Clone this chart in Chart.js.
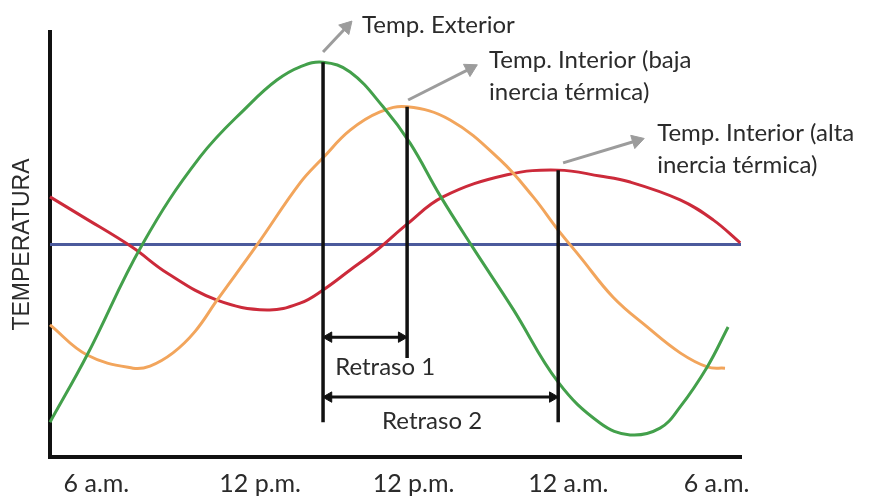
<!DOCTYPE html>
<html>
<head>
<meta charset="utf-8">
<script src="https://cdn.jsdelivr.net/npm/chart.js@4.4.1/dist/chart.umd.min.js"></script>
<style>
  html, body { margin: 0; padding: 0; background: #fff; }
  #wrap { width: 872px; height: 497px; }
</style>
</head>
<body>
<div id="wrap"><canvas id="chart" width="872" height="497"></canvas></div>
<script>
// x axis in hours, y axis is a relative temperature (0..100)
const xTickAt = [6, 12.35, 18.3, 24.3, 30.05];
const xTickLabels = ["6 a.m.", "12 p.m.", "12 p.m.", "12 a.m.", "6 a.m."];

// Temp. Exterior (green)
const extHours = [4.2, 5.64, 7.77, 10.02, 11.96, 13.0, 13.9, 14.79, 15.84, 17.12, 18.16, 19.33, 20.61, 22.16, 23.91, 25.53, 26.7, 27.86, 28.64, 29.69, 30.5];
const extTemp = [8.2, 24.0, 49.9, 70.6, 83.1, 88.7, 91.8, 92.9, 90.6, 82.4, 73.9, 61.5, 49.2, 34.8, 17.6, 8.0, 5.2, 6.8, 11.8, 21.2, 30.6];

// Temp. Interior, baja inercia (orange)
const lowHours = [4.2, 5.64, 7.42, 8.08, 8.97, 9.82, 10.68, 12.23, 13.9, 14.79, 15.84, 17.0, 18.05, 19.72, 21.66, 22.94, 23.91, 24.76, 26.04, 27.36, 28.64, 29.69, 30.38];
const lowTemp = [31.1, 24.0, 20.9, 21.4, 24.5, 29.5, 36.9, 49.9, 64.5, 70.4, 76.9, 81.2, 82.4, 79.3, 69.9, 61.2, 53.4, 47.1, 37.6, 30.6, 24.5, 21.2, 20.9];

// Temp. Interior, alta inercia (red)
const highHours = [4.2, 5.48, 7.38, 8.74, 10.68, 12.62, 13.9, 14.79, 15.84, 16.88, 18.05, 19.44, 21.93, 23.91, 25.53, 26.7, 28.64, 29.92, 30.97];
const highTemp = [61.2, 56.5, 49.4, 43.3, 36.9, 34.6, 36.2, 39.3, 44.0, 48.7, 54.8, 61.2, 66.4, 67.5, 66.1, 64.7, 60.5, 55.8, 50.4];

// mean line (blue)
const meanHours = [4.2, 31.0];
const meanTemp = [50, 50];

// peaks marked with vertical lines
const peakHours = [14.79, 18.05, 23.91];
const peakTop = [92.9, 82.4, 67.5];
const peakBottom = [8.2, 23.3, 8.2];

// delay arrows: start hour, end hour, level
const delayFrom = [14.79, 14.79];
const delayTo = [18.05, 23.91];
const delayLevel = [28.2, 14.1];
const delayText = ["Retraso 1", "Retraso 2"];

// callout arrows and their captions
const calloutFrom = [[14.79, 95.3], [18.09, 84.0], [24.1, 69.2]];
const calloutTo = [[15.7, 101.2], [20.5, 91.4], [26.95, 74.4]];
const calloutText = [
  ["Temp. Exterior"],
  ["Temp. Interior (baja", "inercia térmica)"],
  ["Temp. Interior (alta", "inercia térmica)"]
];

const zip = (xs, ys) => xs.map((x, i) => ({ x: x, y: ys[i] }));

const ink = "#111";
const textColor = "#2b2b2b";
const grey = "#9c9c9c";

function curve(label, xs, ys, color, order) {
  return {
    label: label,
    data: zip(xs, ys),
    borderColor: color,
    borderWidth: 3,
    pointRadius: 0,
    tension: 0.4,
    fill: false,
    clip: false,
    order: order,
  };
}

const datasets = [];
datasets.push(curve("Media", meanHours, meanTemp, "#4b5a9c", 5));
datasets.push(curve("Temp. Interior (alta inercia térmica)", highHours, highTemp, "#cc2a3a", 4));
datasets.push(curve("Temp. Interior (baja inercia térmica)", lowHours, lowTemp, "#f2a55c", 3));
datasets.push(curve("Temp. Exterior", extHours, extTemp, "#43a04b", 2));

peakHours.forEach((h, i) => {
  datasets.push({
    data: [{ x: h, y: peakTop[i] }, { x: h, y: peakBottom[i] }],
    borderColor: ink,
    borderWidth: 3.5,
    pointRadius: 0,
    clip: false,
    order: 1,
  });
});

const headInset = 0.22;
delayFrom.forEach((a, i) => {
  datasets.push({
    data: [{ x: a + headInset, y: delayLevel[i] }, { x: delayTo[i] - headInset, y: delayLevel[i] }],
    borderColor: ink,
    borderWidth: 3,
    pointStyle: "triangle",
    pointRadius: 6,
    pointRotation: [270, 90],
    pointBackgroundColor: ink,
    pointBorderColor: ink,
    pointBorderWidth: 1,
    clip: false,
    order: 1,
  });
});

const calloutAngle = [43, 62, 73];
calloutFrom.forEach((p, i) => {
  datasets.push({
    data: [{ x: p[0], y: p[1] }, { x: calloutTo[i][0], y: calloutTo[i][1] }],
    borderColor: grey,
    borderWidth: 3,
    pointStyle: "triangle",
    pointRadius: [0, 8],
    pointRotation: [0, calloutAngle[i]],
    pointBackgroundColor: grey,
    pointBorderColor: grey,
    pointBorderWidth: 1,
    clip: false,
    order: 1,
  });
});

// captions placed in data space
const captionAt = [[16.3, 101.6], [21.23, 93.4], [27.75, 76.2]];
const delayTextAt = [[15.26, 21.2], [17.08, 8.4]];
const lineStep = 7.6;

const notesPlugin = {
  id: "notes",
  afterDatasetsDraw(chart) {
    const ctx = chart.ctx;
    const xs = chart.scales.x;
    const ys = chart.scales.y;
    ctx.save();
    ctx.fillStyle = textColor;
    ctx.font = "24px Lato";
    ctx.textAlign = "left";
    ctx.textBaseline = "middle";
    calloutText.forEach((lines, i) => {
      lines.forEach((t, j) => {
        ctx.fillText(t, xs.getPixelForValue(captionAt[i][0]), ys.getPixelForValue(captionAt[i][1] - j * lineStep));
      });
    });
    delayText.forEach((t, i) => {
      ctx.fillText(t, xs.getPixelForValue(delayTextAt[i][0]), ys.getPixelForValue(delayTextAt[i][1]));
    });
    ctx.restore();
  },
};

new Chart(document.getElementById("chart"), {
  type: "line",
  data: { datasets: datasets },
  options: {
    responsive: false,
    animation: false,
    layout: { padding: { top: 32, right: 131, bottom: 0, left: 0 } },
    plugins: { legend: { display: false }, tooltip: { enabled: false } },
    scales: {
      x: {
        type: "linear",
        min: 4.2,
        max: 31.0,
        grid: { display: false, drawTicks: false },
        border: { color: ink, width: 4 },
        afterBuildTicks: (s) => {
          s.ticks = xTickAt.map((v) => ({ value: v }));
        },
        ticks: {
          autoSkip: false,
          maxRotation: 0,
          padding: 12,
          color: textColor,
          font: { family: "Lato", size: 25 },
          callback: (v, i) => xTickLabels[i],
        },
        afterFit: (s) => {
          s.height = 40;
        },
      },
      y: {
        min: 0,
        max: 100,
        grid: { display: false, drawTicks: false },
        border: { color: ink, width: 4 },
        ticks: { display: false },
        title: {
          display: true,
          text: "TEMPERATURA",
          color: textColor,
          font: { family: "Liberation Sans", size: 23 },
          padding: { top: 9, bottom: 0 },
        },
        afterFit: (s) => {
          s.width = 50;
        },
      },
    },
  },
  plugins: [notesPlugin],
});
</script>
</body>
</html>
